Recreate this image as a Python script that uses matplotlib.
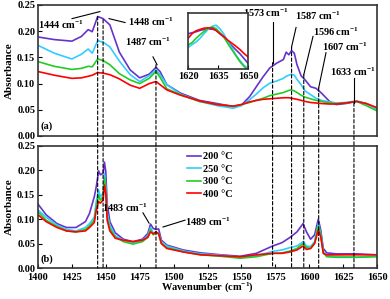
import matplotlib
matplotlib.use("Agg")
import matplotlib.pyplot as plt
from matplotlib.patches import ConnectionPatch

plt.rcParams['font.family'] = ['Liberation Serif', 'DejaVu Serif']
plt.rcParams['font.weight'] = 'bold'
plt.rcParams['mathtext.fontset'] = 'custom'
plt.rcParams['mathtext.rm'] = 'Liberation Serif:bold'
plt.rcParams['mathtext.bf'] = 'Liberation Serif:bold'
plt.rcParams['mathtext.it'] = 'Liberation Serif:bold'
plt.rcParams['mathtext.default'] = 'rm'

# ---------------- data ----------------
labels = ['200 °C', '250 °C', '300 °C', '400 °C']
colors = ['#6633CC', '#33CCFF', '#22CC22', '#FF0000']

wn_a = [1400, 1412, 1425, 1432, 1437, 1440, 1444, 1448, 1453, 1460, 1468, 1475, 1482,
        1487, 1490, 1495, 1505, 1519, 1532, 1544, 1550, 1556, 1561, 1566, 1571, 1576,
        1581, 1583, 1585, 1587, 1589, 1591, 1594, 1597, 1601, 1605, 1609, 1615, 1620,
        1627, 1635, 1642, 1650]
a_200 = [0.189, 0.184, 0.181, 0.190, 0.203, 0.199, 0.228, 0.224, 0.212, 0.160, 0.126, 0.111,
         0.118, 0.131, 0.123, 0.098, 0.082, 0.068, 0.062, 0.056, 0.059, 0.075, 0.094, 0.113,
         0.130, 0.139, 0.146, 0.160, 0.155, 0.163, 0.158, 0.136, 0.115, 0.107, 0.094, 0.091,
         0.082, 0.066, 0.060, 0.062, 0.066, 0.062, 0.053]
a_250 = [0.173, 0.158, 0.147, 0.156, 0.166, 0.158, 0.182, 0.179, 0.170, 0.143, 0.117, 0.104,
         0.115, 0.126, 0.117, 0.098, 0.080, 0.066, 0.058, 0.053, 0.058, 0.069, 0.080, 0.092,
         0.101, 0.105, 0.110, 0.114, 0.116, 0.118, 0.116, 0.108, 0.098, 0.086, 0.079, 0.072,
         0.068, 0.065, 0.063, 0.064, 0.067, 0.062, 0.051]
a_300 = [0.142, 0.133, 0.127, 0.129, 0.133, 0.132, 0.147, 0.144, 0.136, 0.119, 0.107, 0.100,
         0.110, 0.123, 0.112, 0.090, 0.079, 0.066, 0.060, 0.057, 0.060, 0.064, 0.068, 0.072,
         0.077, 0.080, 0.083, 0.085, 0.087, 0.088, 0.086, 0.083, 0.078, 0.074, 0.071, 0.068,
         0.066, 0.063, 0.062, 0.063, 0.066, 0.058, 0.048]
a_400 = [0.123, 0.116, 0.110, 0.111, 0.114, 0.116, 0.121, 0.120, 0.117, 0.109, 0.097, 0.091,
         0.100, 0.104, 0.098, 0.088, 0.078, 0.067, 0.060, 0.057, 0.060, 0.065, 0.068, 0.070,
         0.071, 0.072, 0.073, 0.073, 0.073, 0.072, 0.071, 0.070, 0.068, 0.066, 0.064, 0.063,
         0.062, 0.061, 0.061, 0.063, 0.066, 0.062, 0.054]

wn_in = [1620, 1622, 1624, 1626, 1628, 1630, 1632, 1634, 1636, 1638, 1640, 1642, 1644,
         1646, 1648, 1650]
in_200 = [0.0627, 0.0630, 0.0633, 0.0637, 0.0640, 0.0641, 0.0641, 0.0638, 0.0627, 0.0616,
          0.0602, 0.0590, 0.0578, 0.0566, 0.0552, 0.0537]
in_250 = [0.0585, 0.0594, 0.0602, 0.0613, 0.0627, 0.0640, 0.0649, 0.0653, 0.0642, 0.0625,
          0.0602, 0.0583, 0.0562, 0.0545, 0.0531, 0.0522]
in_300 = [0.0593, 0.0600, 0.0613, 0.0624, 0.0634, 0.0643, 0.0647, 0.0643, 0.0630, 0.0617,
          0.0596, 0.0578, 0.0560, 0.0542, 0.0528, 0.0515]
in_400 = [0.0613, 0.0627, 0.0636, 0.0640, 0.0644, 0.0645, 0.0644, 0.0637, 0.0627, 0.0618,
          0.0607, 0.0598, 0.0589, 0.0579, 0.0567, 0.0557]

wn_b = [1400, 1406, 1414, 1421, 1428, 1435, 1438, 1441.5, 1443, 1444.7, 1446, 1448, 1449,
        1450, 1451, 1453, 1457, 1463, 1470, 1477, 1481, 1483, 1485, 1487, 1489, 1491, 1495,
        1507, 1520, 1535, 1549, 1561, 1573, 1580, 1586, 1591, 1595.5, 1598, 1601, 1604,
        1606.7, 1608.5, 1610.4, 1613, 1620, 1635, 1650]
b_200 = [0.131, 0.109, 0.091, 0.083, 0.083, 0.095, 0.112, 0.146, 0.167, 0.199, 0.191, 0.194,
         0.217, 0.197, 0.132, 0.095, 0.072, 0.059, 0.054, 0.059, 0.071, 0.090, 0.081, 0.079,
         0.080, 0.057, 0.047, 0.037, 0.031, 0.027, 0.024, 0.030, 0.045, 0.052, 0.063, 0.074,
         0.091, 0.074, 0.059, 0.068, 0.100, 0.078, 0.040, 0.031, 0.029, 0.029, 0.027]
b_250 = [0.119, 0.104, 0.088, 0.079, 0.076, 0.083, 0.091, 0.104, 0.137, 0.160, 0.146, 0.153,
         0.194, 0.167, 0.112, 0.087, 0.066, 0.057, 0.052, 0.057, 0.066, 0.083, 0.071, 0.074,
         0.071, 0.054, 0.045, 0.035, 0.029, 0.026, 0.022, 0.025, 0.034, 0.037, 0.042, 0.045,
         0.054, 0.045, 0.044, 0.054, 0.091, 0.071, 0.034, 0.025, 0.024, 0.022, 0.025]
b_300 = [0.115, 0.098, 0.085, 0.076, 0.074, 0.079, 0.086, 0.098, 0.126, 0.149, 0.139, 0.146,
         0.184, 0.160, 0.105, 0.081, 0.063, 0.054, 0.049, 0.054, 0.063, 0.079, 0.068, 0.072,
         0.070, 0.050, 0.042, 0.033, 0.027, 0.024, 0.020, 0.023, 0.030, 0.031, 0.035, 0.040,
         0.050, 0.042, 0.040, 0.052, 0.086, 0.068, 0.031, 0.023, 0.022, 0.022, 0.023]
b_400 = [0.109, 0.095, 0.083, 0.076, 0.074, 0.076, 0.083, 0.093, 0.119, 0.136, 0.133, 0.139,
         0.170, 0.153, 0.098, 0.076, 0.061, 0.057, 0.054, 0.057, 0.063, 0.074, 0.070, 0.074,
         0.070, 0.050, 0.040, 0.033, 0.027, 0.025, 0.023, 0.027, 0.030, 0.030, 0.033, 0.037,
         0.045, 0.038, 0.040, 0.050, 0.078, 0.064, 0.030, 0.027, 0.027, 0.027, 0.027]

# peak markers: (label value, top of dashed line in panel a)
peaks = [1444, 1448, 1487, 1573, 1587, 1596, 1607, 1633]
peak_top = [0.228, 0.222, 0.136, 0.140, 0.170, 0.117, 0.092, 0.063]

x_ticks = [1400, 1425, 1450, 1475, 1500, 1525, 1550, 1575, 1600, 1625, 1650]
y_ticks = [0.00, 0.05, 0.10, 0.15, 0.20, 0.25]

# ---------------- figure ----------------
W, H = 390, 299
fig = plt.figure(figsize=(W / 100, H / 100), dpi=100)

def frac(x0, y0, x1, y1):
    return [x0 / W, 1 - y1 / H, (x1 - x0) / W, (y1 - y0) / H]

ax1 = fig.add_axes(frac(38, 5, 377, 136))
ax2 = fig.add_axes(frac(38, 146, 377, 268))

series_a = [a_200, a_250, a_300, a_400]
series_b = [b_200, b_250, b_300, b_400]
series_in = [in_200, in_250, in_300, in_400]

fs = 7.5
for ax in (ax1, ax2):
    ax.set_xlim(1400, 1650)
    ax.set_ylim(0, 0.25)
    ax.set_yticks(y_ticks)
    ax.set_yticklabels(['%.2f' % v for v in y_ticks], fontsize=fs, fontweight='bold')
    ax.tick_params(direction='in', length=3, width=0.8, pad=2)
    for s in ax.spines.values():
        s.set_linewidth(1.2)
        s.set_color('#333333')
    ax.set_ylabel('Absorbance', fontsize=8, fontweight='bold', labelpad=2)

ax1.set_xticks([])
ax2.set_xticks(x_ticks)
ax2.set_xticklabels([str(v) for v in x_ticks], fontsize=fs, fontweight='bold')
ax2.tick_params(axis='x', pad=3.5)
ax2.set_xlabel('Wavenumber (cm$^{-1}$)', fontsize=7.5, fontweight='bold', labelpad=-1)

for ys, c in zip(series_a, colors):
    ax1.plot(wn_a, ys, color=c, lw=1.2)
for ys, c, lab in zip(series_b, colors, labels):
    ax2.plot(wn_b, ys, color=c, lw=1.2, label=lab)

ax2.legend(loc='upper left', bbox_to_anchor=(0.44, 0.95), frameon=False,
           prop={'size': 7.5, 'weight': 'bold'}, handlelength=1.3, handletextpad=0.2,
           labelspacing=0.3, borderpad=0, borderaxespad=0)

ax1.text(1402, 0.014, '(a)', fontsize=fs, fontweight='bold')
ax2.text(1402, 0.012, '(b)', fontsize=fs, fontweight='bold')

# annotations panel a
lk = dict(color='black', lw=0.8)
tk = dict(fontsize=fs, fontweight='bold', ha='center', va='center')
ann_a = [
    ('1444 cm$^{-1}$', (1417, 0.212), (1425.1, 0.224), (1445.7, 0.2375)),
    ('1448 cm$^{-1}$', (1483, 0.218), (1452.4, 0.224), (1464.2, 0.2165)),
    ('1487 cm$^{-1}$', (1481, 0.180), (1484.8, 0.151), (1487.8, 0.136)),
    ('1573 cm$^{-1}$', (1568, 0.235), (1573.0, 0.218), (1573.0, 0.140)),
    ('1587 cm$^{-1}$', (1606.5, 0.230), (1590.3, 0.207), (1587.0, 0.170)),
    ('1596 cm$^{-1}$', (1619.8, 0.199), (1602.8, 0.190), (1596.0, 0.117)),
    ('1607 cm$^{-1}$', (1626.4, 0.170), (1612.4, 0.159), (1607.0, 0.092)),
    ('1633 cm$^{-1}$', (1632.3, 0.1226), (1633.0, 0.111), (1633.0, 0.063)),
]
for t, tp, p0, p1 in ann_a:
    ax1.text(tp[0], tp[1], t, **tk)
    ax1.plot([p0[0], p1[0]], [p0[1], p1[1]], **lk)

ann_b = [
    ('1483 cm$^{-1}$', (1464, 0.123), (1477.4, 0.113), (1481.9, 0.092)),
    ('1489 cm$^{-1}$', (1525.5, 0.094), (1508.4, 0.098), (1492.2, 0.084)),
]
for t, tp, p0, p1 in ann_b:
    ax2.text(tp[0], tp[1], t, **tk)
    ax2.plot([p0[0], p1[0]], [p0[1], p1[1]], **lk)

# dashed connecting lines
for x, yt in zip(peaks, peak_top):
    cp = ConnectionPatch(xyA=(x, yt), coordsA=ax1.transData, xyB=(x, 0), coordsB=ax2.transData,
                         color='black', lw=0.8, linestyle=(0, (3, 2)))
    fig.add_artist(cp)

# inset
axi = fig.add_axes(frac(188, 13, 248, 69))
for ys, c in zip(series_in, colors):
    axi.plot(wn_in, ys, color=c, lw=1.2)
axi.set_xlim(1620, 1650)
axi.set_ylim(0.052, 0.069)
axi.set_yticks([])
axi.set_xticks([1620, 1635, 1650])
axi.set_xticklabels(['1620', '1635', '1650'], fontsize=fs, fontweight='bold')
axi.tick_params(direction='in', length=3, width=0.8, pad=2)
for s in axi.spines.values():
    s.set_linewidth(1.2)
    s.set_color('#333333')

fig.savefig('out.png', dpi=100)
